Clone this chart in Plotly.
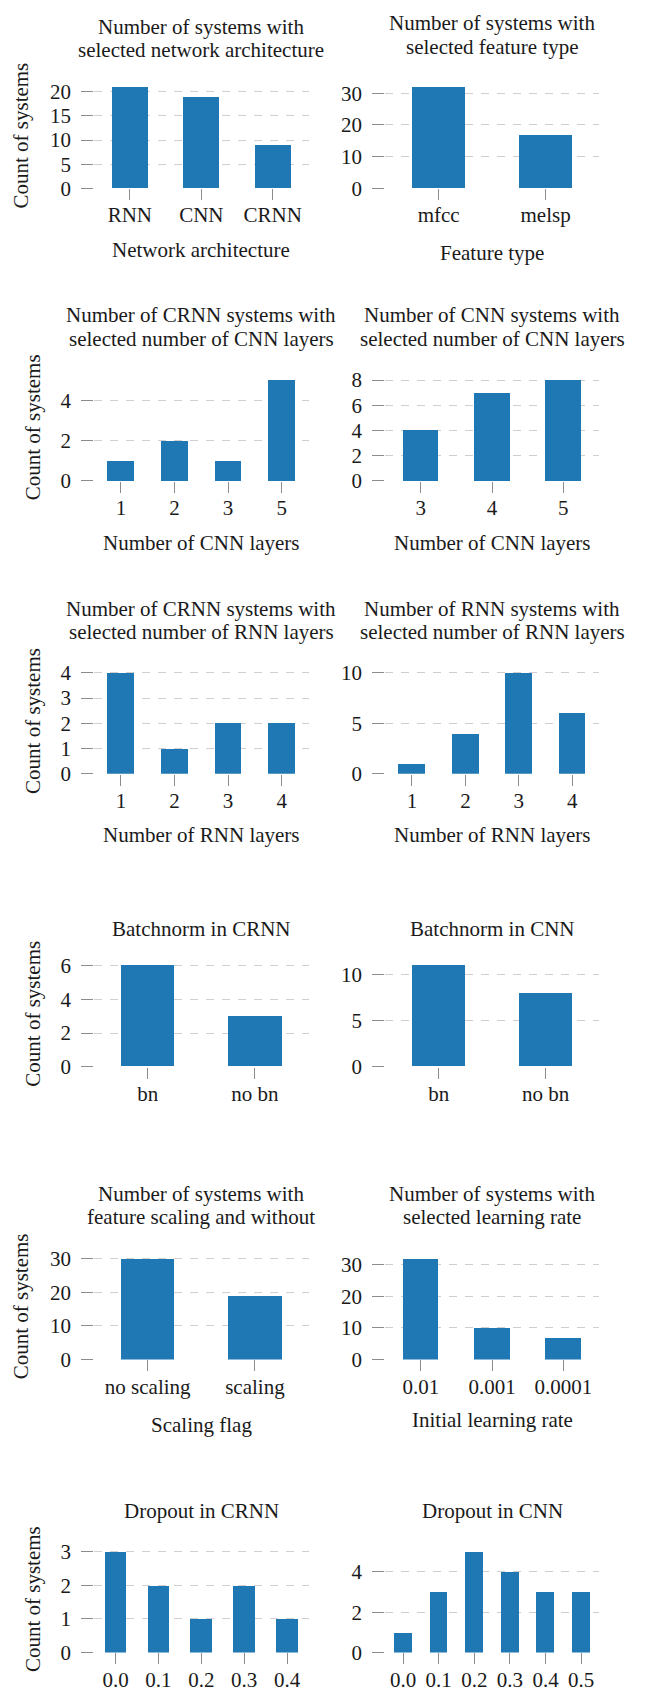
import plotly.graph_objects as go

# ---- data -------------------------------------------------------------
arch_labels = ["RNN", "CNN", "CRNN"]
arch_counts = [21, 19, 9]

feature_labels = ["mfcc", "melsp"]
feature_counts = [32, 17]

crnn_cnn_layer_labels = ["1", "2", "3", "5"]
crnn_cnn_layer_counts = [1, 2, 1, 5]

cnn_cnn_layer_labels = ["3", "4", "5"]
cnn_cnn_layer_counts = [4, 7, 8]

crnn_rnn_layer_labels = ["1", "2", "3", "4"]
crnn_rnn_layer_counts = [4, 1, 2, 2]

rnn_rnn_layer_labels = ["1", "2", "3", "4"]
rnn_rnn_layer_counts = [1, 4, 10, 6]

bn_labels = ["bn", "no bn"]
crnn_bn_counts = [6, 3]
cnn_bn_counts = [11, 8]

scaling_labels = ["no scaling", "scaling"]
scaling_counts = [30, 19]

lr_labels = ["0.01", "0.001", "0.0001"]
lr_counts = [32, 10, 7]

crnn_dropout_labels = ["0.0", "0.1", "0.2", "0.3", "0.4"]
crnn_dropout_counts = [3, 2, 1, 2, 1]

cnn_dropout_labels = ["0.0", "0.1", "0.2", "0.3", "0.4", "0.5"]
cnn_dropout_counts = [1, 3, 5, 4, 3, 3]

# y tick values per panel
yticks_arch = [0, 5, 10, 15, 20]
yticks_feature = [0, 10, 20, 30]
yticks_crnn_cnn = [0, 2, 4]
yticks_cnn_cnn = [0, 2, 4, 6, 8]
yticks_crnn_rnn = [0, 1, 2, 3, 4]
yticks_rnn_rnn = [0, 5, 10]
yticks_crnn_bn = [0, 2, 4, 6]
yticks_cnn_bn = [0, 5, 10]
yticks_scaling = [0, 10, 20, 30]
yticks_lr = [0, 10, 20, 30]
yticks_crnn_dropout = [0, 1, 2, 3]
yticks_cnn_dropout = [0, 2, 4]

# ---- layout helpers ----------------------------------------------------
W, H = 645, 1705
FONT = "Liberation Serif, Times New Roman, serif"
TEXT = "#1a1a1a"
BAR = "#1f77b4"
GRID = "#cfcfcf"
TICK = "#8c8c8c"
FS = 21

COLS = {0: (94.1, 308.5), 1: (385.2, 599.0)}
ROWS = [(75.8, 183.3), (372.2, 479.3), (668.2, 775.3),
        (964.2, 1071.7), (1260.6, 1367.7), (1557.0, 1664.0)]

panels = [
    # row, col, labels, counts, yticks, title lines, title y's, xlabel, xlabel y
    (0, 0, arch_labels, arch_counts, yticks_arch,
     ["Number of systems with", "selected network architecture"], [20.7, 43.3],
     "Network architecture", 246),
    (0, 1, feature_labels, feature_counts, yticks_feature,
     ["Number of systems with", "selected feature type"], [15.7, 40.0],
     "Feature type", 249),
    (1, 0, crnn_cnn_layer_labels, crnn_cnn_layer_counts, yticks_crnn_cnn,
     ["Number of CRNN systems with", "selected number of CNN layers"], [311.7, 335.7],
     "Number of CNN layers", 541.7),
    (1, 1, cnn_cnn_layer_labels, cnn_cnn_layer_counts, yticks_cnn_cnn,
     ["Number of CNN systems with", "selected number of CNN layers"], [311.7, 335.7],
     "Number of CNN layers", 541.7),
    (2, 0, crnn_rnn_layer_labels, crnn_rnn_layer_counts, yticks_crnn_rnn,
     ["Number of CRNN systems with", "selected number of RNN layers"], [608.3, 631.7],
     "Number of RNN layers", 837.3),
    (2, 1, rnn_rnn_layer_labels, rnn_rnn_layer_counts, yticks_rnn_rnn,
     ["Number of RNN systems with", "selected number of RNN layers"], [608.3, 631.7],
     "Number of RNN layers", 837.3),
    (3, 0, bn_labels, crnn_bn_counts, yticks_crnn_bn,
     ["Batchnorm in CRNN"], [932.7], None, None),
    (3, 1, bn_labels, cnn_bn_counts, yticks_cnn_bn,
     ["Batchnorm in CNN"], [932.7], None, None),
    (4, 0, scaling_labels, scaling_counts, yticks_scaling,
     ["Number of systems with", "feature scaling and without"], [1200.7, 1224.0],
     "Scaling flag", 1434),
    (4, 1, lr_labels, lr_counts, yticks_lr,
     ["Number of systems with", "selected learning rate"], [1200.7, 1224.0],
     "Initial learning rate", 1429.3),
    (5, 0, crnn_dropout_labels, crnn_dropout_counts, yticks_crnn_dropout,
     ["Dropout in CRNN"], [1521.0], None, None),
    (5, 1, cnn_dropout_labels, cnn_dropout_counts, yticks_cnn_dropout,
     ["Dropout in CNN"], [1521.0], None, None),
]

# y-axis title positions (x px, y px) for the left column
ylabel_pos = [(21, 130), (33, 425), (33, 722), (33, 1018), (21, 1314), (33, 1610)]

fig = go.Figure()
annotations = []


def px_x(x):
    return x / W


def px_y(y):
    return 1 - y / H


for i, (r, c, labels, counts, yticks, tlines, tys, xlabel, xly) in enumerate(panels):
    n = i + 1
    xa = "x" if n == 1 else f"x{n}"
    ya = "y" if n == 1 else f"y{n}"
    fig.add_trace(go.Bar(
        x=labels, y=counts, xaxis=xa, yaxis=ya, width=0.5,
        marker=dict(color=BAR, line=dict(width=0)), showlegend=False,
    ))
    x0, x1 = COLS[c]
    top, bottom = ROWS[r]
    xkey = "xaxis" if n == 1 else f"xaxis{n}"
    ykey = "yaxis" if n == 1 else f"yaxis{n}"
    fig.layout[xkey] = dict(
        domain=[px_x(x0), px_x(x1)], anchor=ya, type="category",
        range=[-0.5, len(labels) - 0.5], showgrid=False, zeroline=False,
        showline=False, ticks="outside", ticklen=11, tickwidth=1,
        tickcolor=TICK, tickfont=dict(family=FONT, size=FS, color=TEXT),
        ticklabelstandoff=-3, fixedrange=True,
    )
    fig.layout[ykey] = dict(
        domain=[px_y(bottom), px_y(top)], anchor=xa,
        range=[0, max(counts) * 1.05], tickvals=yticks,
        ticktext=[str(v) for v in yticks],
        showgrid=True, gridcolor=GRID, gridwidth=1, griddash="8px,8px",
        zeroline=False, showline=False, ticks="outside", ticklen=12,
        tickwidth=1, tickcolor=TICK,
        tickfont=dict(family=FONT, size=FS, color=TEXT),
        ticklabelstandoff=6, fixedrange=True,
    )
    cx = (x0 + x1) / 2
    for line, ty in zip(tlines, tys):
        annotations.append(dict(
            text=line, x=px_x(cx), y=px_y(ty), xref="paper", yref="paper",
            xanchor="center", yanchor="middle", showarrow=False,
            font=dict(family=FONT, size=FS, color=TEXT),
        ))
    if xlabel:
        annotations.append(dict(
            text=xlabel, x=px_x(cx), y=px_y(xly), xref="paper", yref="paper",
            xanchor="center", yanchor="middle", showarrow=False,
            font=dict(family=FONT, size=FS, color=TEXT),
        ))

for (lx, ly) in ylabel_pos:
    annotations.append(dict(
        text="Count of systems", x=px_x(lx), y=px_y(ly), xref="paper",
        yref="paper", xanchor="center", yanchor="middle", showarrow=False,
        textangle=-90, font=dict(family=FONT, size=FS, color=TEXT),
    ))

fig.update_layout(
    width=W, height=H, margin=dict(l=0, r=0, t=0, b=0),
    paper_bgcolor="white", plot_bgcolor="white",
    annotations=annotations, bargap=0,
)

fig.write_html("out.html", config={"displayModeBar": False})
